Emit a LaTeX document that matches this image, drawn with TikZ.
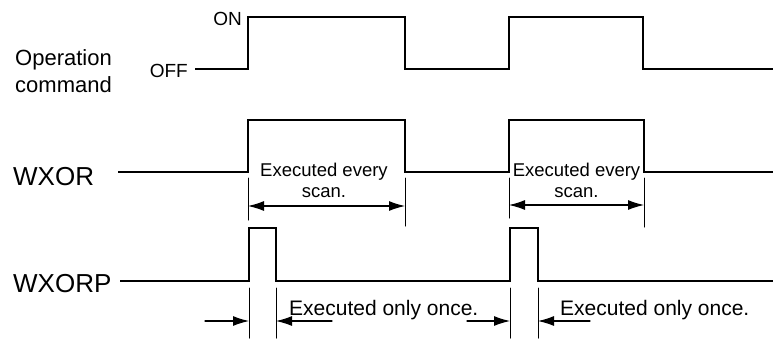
\documentclass[tikz,border=0pt]{standalone}
\usepackage{fontspec}
\setmainfont{Liberation Sans}
\usetikzlibrary{arrows.meta,calc,positioning}
\tikzset{
  wave/.style={line width=2pt, line join=miter, line cap=butt},
  extline/.style={line width=1pt},
  dimarrow/.style={line width=1.1pt, -{Latex[length=16pt,width=10pt]}},
  siglbl/.style={anchor=base west, inner sep=0pt, font=\fontsize{26}{31}\selectfont},
  cmdlbl/.style={anchor=base west, inner sep=0pt, font=\fontsize{22}{27}\selectfont},
  lvllbl/.style={anchor=base east, inner sep=0pt, font=\fontsize{19}{22}\selectfont},
  scannote/.style={anchor=base, inner sep=0pt, font=\fontsize{18.5}{21}\selectfont},
  oncenote/.style={anchor=base west, inner sep=0pt, font=\fontsize{21}{24}\selectfont},
  every picture/.style={line cap=round, line join=round}
}

\begin{document}
\begin{tikzpicture}[x=1pt,y=-1pt]
    \useasboundingbox (0,0) rectangle (773,338);

    % signal names
    \node[cmdlbl] (op) at (15,65) {Operation};
    \node[cmdlbl] (cmd) at (15,92) {command};
    \node[siglbl] (wxor) at (13,185) {WXOR};
    \node[siglbl] (wxorp) at (13,292) {WXORP};
    \node[lvllbl] (on) at (242,25) {ON};
    \node[lvllbl] (off) at (188,77) {OFF};

    % operation command
    \draw[wave] (195,69) -- (248,69) -- (248,17) -- (405,17) -- (405,69)
      -- (509,69) -- (509,17) -- (643,17) -- (643,69) -- (773,69);

    % WXOR
    \draw[wave] (118,172) -- (248,172) -- (248,120) -- (405,120) -- (405,172)
      -- (509,172) -- (509,120) -- (644,120) -- (644,172) -- (773,172);
    \draw[extline] (248,178) -- (248,220) (405,178) -- (405,226);
    \draw[extline] (509,178) -- (509,218) (644,178) -- (644,227);
    \coordinate (sa1) at (248,206);
    \coordinate (sb1) at (405,206);
    \coordinate (sa2) at (509,205);
    \coordinate (sb2) at (644,205);
    \draw[dimarrow] ($(sa1)!0.5!(sb1)$) -- (sa1);
    \draw[dimarrow] ($(sa1)!0.5!(sb1)$) -- (sb1);
    \draw[dimarrow] ($(sa2)!0.5!(sb2)$) -- (sa2);
    \draw[dimarrow] ($(sa2)!0.5!(sb2)$) -- (sb2);
    \node[scannote] (ev1) at (324,176) {Executed every};
    \node[scannote] (sc1) at (324,197) {scan.};
    \node[scannote] (ev2) at (576.5,176) {Executed every};
    \node[scannote] (sc2) at (576.5,197) {scan.};

    % WXORP
    \draw[wave] (120,281) -- (249,281) -- (249,228) -- (276,228) -- (276,281)
      -- (510,281) -- (510,228) -- (538,228) -- (538,281) -- (773,281);
    \draw[extline] (249,288) -- (249,338) (276,288) -- (276,338);
    \draw[extline] (510,288) -- (510,338) (538,288) -- (538,338);
    \coordinate (pl1) at (205,321);
    \coordinate (pa1) at (249,321);
    \coordinate (pb1) at (276,321);
    \coordinate (pr1) at (332,321);
    \coordinate (pl2) at (467,321);
    \coordinate (pa2) at (510,321);
    \coordinate (pb2) at (538,321);
    \coordinate (pr2) at (590,321);
    \draw[dimarrow] (pl1) -- (pa1);
    \draw[dimarrow] (pr1) -- (pb1);
    \draw[dimarrow] (pl2) -- (pa2);
    \draw[dimarrow] (pr2) -- (pb2);
    \node[oncenote] (once1) at (289,315) {Executed only once.};
    \node[oncenote] (once2) at (560,315) {Executed only once.};
\end{tikzpicture}
\end{document}
